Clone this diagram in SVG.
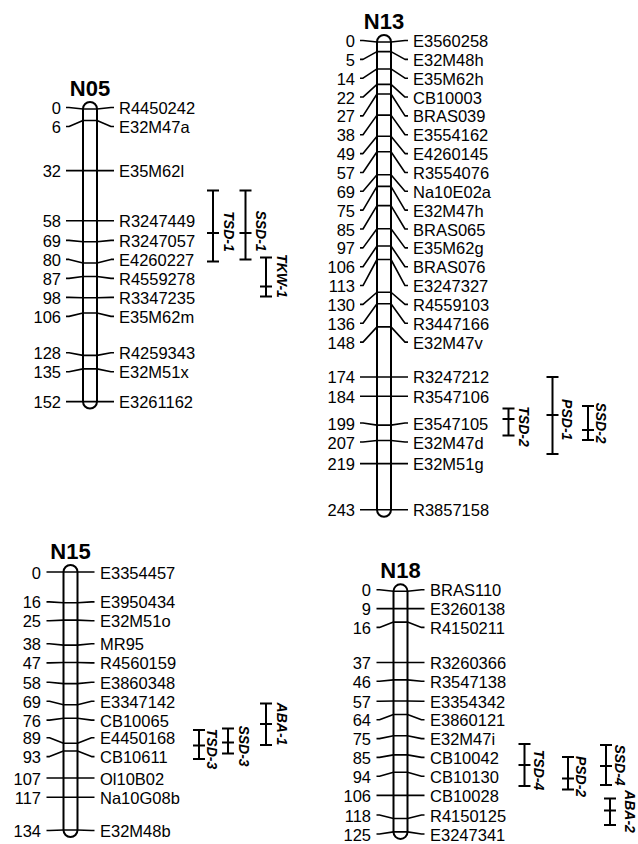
<svg xmlns="http://www.w3.org/2000/svg" width="638" height="844" viewBox="0 0 638 844">
<style>
.bg{fill:#fff}
.chr{fill:#fff;stroke:#000;stroke-width:2}
.mk{fill:none;stroke:#000;stroke-width:1.6;stroke-linejoin:round}
.num{font-family:"Liberation Sans",Arial,sans-serif;font-size:16.5px;text-anchor:end;fill:#000}
.nm{font-family:"Liberation Sans",Arial,sans-serif;font-size:16.5px;text-anchor:start;fill:#000}
.ttl{font-family:"Liberation Sans",Arial,sans-serif;font-size:22px;font-weight:bold;text-anchor:middle;fill:#000}
.qtl{fill:none;stroke:#000;stroke-width:2}
.ql{font-family:"Liberation Sans",Arial,sans-serif;font-size:14px;font-weight:bold;font-style:italic;text-anchor:middle;fill:#000}
</style>
<rect class="bg" x="0" y="0" width="638" height="844"/>

<g id="N05">
<text class="ttl" x="90" y="96">N05</text>
<rect class="chr" x="83" y="102" width="14" height="306.6" rx="7" ry="7"/>
<g class="mk">
<path d="M66,107.5H69L83,109H97L111,107.5H114"/>
<path d="M66,126.5H69L83,120.5H97L111,126.5H114"/>
<path d="M66,170.6H69L83,170.6H97L111,170.6H114"/>
<path d="M66,220.7H69L83,220.7H97L111,220.7H114"/>
<path d="M66,240.4H69L83,241.8H97L111,240.4H114"/>
<path d="M66,259.4H69L83,263H97L111,259.4H114"/>
<path d="M66,278.4H69L83,276.5H97L111,278.4H114"/>
<path d="M66,297.4H69L83,297.7H97L111,297.4H114"/>
<path d="M66,316.4H69L83,313H97L111,316.4H114"/>
<path d="M66,352.7H69L83,355.4H97L111,352.7H114"/>
<path d="M66,371.7H69L83,368.9H97L111,371.7H114"/>
<path d="M66,401.6H69L83,401.6H97L111,401.6H114"/>
</g>
<text class="num" x="61" y="114">0</text><text class="nm" x="119" y="114">R4450242</text>
<text class="num" x="61" y="133">6</text><text class="nm" x="119" y="133">E32M47a</text>
<text class="num" x="61" y="177.1">32</text><text class="nm" x="119" y="177.1">E35M62l</text>
<text class="num" x="61" y="227.2">58</text><text class="nm" x="119" y="227.2">R3247449</text>
<text class="num" x="61" y="246.9">69</text><text class="nm" x="119" y="246.9">R3247057</text>
<text class="num" x="61" y="265.9">80</text><text class="nm" x="119" y="265.9">E4260227</text>
<text class="num" x="61" y="284.9">87</text><text class="nm" x="119" y="284.9">R4559278</text>
<text class="num" x="61" y="303.9">98</text><text class="nm" x="119" y="303.9">R3347235</text>
<text class="num" x="61" y="322.9">106</text><text class="nm" x="119" y="322.9">E35M62m</text>
<text class="num" x="61" y="359.2">128</text><text class="nm" x="119" y="359.2">R4259343</text>
<text class="num" x="61" y="378.2">135</text><text class="nm" x="119" y="378.2">E32M51x</text>
<text class="num" x="61" y="408.1">152</text><text class="nm" x="119" y="408.1">E3261162</text>
</g>

<g id="N13">
<text class="ttl" x="384" y="29">N13</text>
<rect class="chr" x="377" y="35" width="14" height="481.8" rx="7" ry="7"/>
<g class="mk">
<path d="M360,40.5H363L377,42H391L405,40.5H408"/>
<path d="M360,59.35H363L377,51.6H391L405,59.35H408"/>
<path d="M360,78.2H363L377,68.95H391L405,78.2H408"/>
<path d="M360,97.05H363L377,84.35H391L405,97.05H408"/>
<path d="M360,115.9H363L377,94H391L405,115.9H408"/>
<path d="M360,134.75H363L377,115.15H391L405,134.75H408"/>
<path d="M360,153.6H363L377,136.3H391L405,153.6H408"/>
<path d="M360,172.45H363L377,151.7H391L405,172.45H408"/>
<path d="M360,191.3H363L377,174.8H391L405,191.3H408"/>
<path d="M360,210.15H363L377,186.4H391L405,210.15H408"/>
<path d="M360,229H363L377,205.6H391L405,229H408"/>
<path d="M360,247.85H363L377,228.7H391L405,247.85H408"/>
<path d="M360,266.7H363L377,246.05H391L405,266.7H408"/>
<path d="M360,285.55H363L377,259.5H391L405,285.55H408"/>
<path d="M360,304.4H363L377,292.25H391L405,304.4H408"/>
<path d="M360,323.25H363L377,303.8H391L405,323.25H408"/>
<path d="M360,342.1H363L377,326.9H391L405,342.1H408"/>
<path d="M360,376.95H363L377,376.95H391L405,376.95H408"/>
<path d="M360,396.2H363L377,396.2H391L405,396.2H408"/>
<path d="M360,423H363L377,425.1H391L405,423H408"/>
<path d="M360,442H363L377,440.5H391L405,442H408"/>
<path d="M360,463.6H363L377,463.6H391L405,463.6H408"/>
<path d="M360,509.8H363L377,509.8H391L405,509.8H408"/>
</g>
<text class="num" x="355" y="47">0</text><text class="nm" x="413" y="47">E3560258</text>
<text class="num" x="355" y="65.85">5</text><text class="nm" x="413" y="65.85">E32M48h</text>
<text class="num" x="355" y="84.7">14</text><text class="nm" x="413" y="84.7">E35M62h</text>
<text class="num" x="355" y="103.55">22</text><text class="nm" x="413" y="103.55">CB10003</text>
<text class="num" x="355" y="122.4">27</text><text class="nm" x="413" y="122.4">BRAS039</text>
<text class="num" x="355" y="141.25">38</text><text class="nm" x="413" y="141.25">E3554162</text>
<text class="num" x="355" y="160.1">49</text><text class="nm" x="413" y="160.1">E4260145</text>
<text class="num" x="355" y="178.95">57</text><text class="nm" x="413" y="178.95">R3554076</text>
<text class="num" x="355" y="197.8">69</text><text class="nm" x="413" y="197.8">Na10E02a</text>
<text class="num" x="355" y="216.65">75</text><text class="nm" x="413" y="216.65">E32M47h</text>
<text class="num" x="355" y="235.5">85</text><text class="nm" x="413" y="235.5">BRAS065</text>
<text class="num" x="355" y="254.35">97</text><text class="nm" x="413" y="254.35">E35M62g</text>
<text class="num" x="355" y="273.2">106</text><text class="nm" x="413" y="273.2">BRAS076</text>
<text class="num" x="355" y="292.05">113</text><text class="nm" x="413" y="292.05">E3247327</text>
<text class="num" x="355" y="310.9">130</text><text class="nm" x="413" y="310.9">R4559103</text>
<text class="num" x="355" y="329.75">136</text><text class="nm" x="413" y="329.75">R3447166</text>
<text class="num" x="355" y="348.6">148</text><text class="nm" x="413" y="348.6">E32M47v</text>
<text class="num" x="355" y="383.45">174</text><text class="nm" x="413" y="383.45">R3247212</text>
<text class="num" x="355" y="402.7">184</text><text class="nm" x="413" y="402.7">R3547106</text>
<text class="num" x="355" y="429.5">199</text><text class="nm" x="413" y="429.5">E3547105</text>
<text class="num" x="355" y="448.5">207</text><text class="nm" x="413" y="448.5">E32M47d</text>
<text class="num" x="355" y="470.1">219</text><text class="nm" x="413" y="470.1">E32M51g</text>
<text class="num" x="355" y="516.3">243</text><text class="nm" x="413" y="516.3">R3857158</text>
</g>

<g id="N15">
<text class="ttl" x="70.5" y="559">N15</text>
<rect class="chr" x="63.5" y="565" width="14" height="272" rx="7" ry="7"/>
<g class="mk">
<path d="M46.5,572H49.5L63.5,572H77.5L91.5,572H94.5"/>
<path d="M46.5,601.9H49.5L63.5,602.8H77.5L91.5,601.9H94.5"/>
<path d="M46.5,620.7H49.5L63.5,620.1H77.5L91.5,620.7H94.5"/>
<path d="M46.5,643.8H49.5L63.5,645.15H77.5L91.5,643.8H94.5"/>
<path d="M46.5,662.9H49.5L63.5,662.5H77.5L91.5,662.9H94.5"/>
<path d="M46.5,682.2H49.5L63.5,683.65H77.5L91.5,682.2H94.5"/>
<path d="M46.5,701.3H49.5L63.5,704.8H77.5L91.5,701.3H94.5"/>
<path d="M46.5,720.1H49.5L63.5,718.3H77.5L91.5,720.1H94.5"/>
<path d="M46.5,737.8H49.5L63.5,743.3H77.5L91.5,737.8H94.5"/>
<path d="M46.5,756.6H49.5L63.5,751H77.5L91.5,756.6H94.5"/>
<path d="M46.5,778H49.5L63.5,778H77.5L91.5,778H94.5"/>
<path d="M46.5,797.2H49.5L63.5,797.2H77.5L91.5,797.2H94.5"/>
<path d="M46.5,830.5H49.5L63.5,830H77.5L91.5,830.5H94.5"/>
</g>
<text class="num" x="41" y="578.5">0</text><text class="nm" x="100" y="578.5">E3354457</text>
<text class="num" x="41" y="608.4">16</text><text class="nm" x="100" y="608.4">E3950434</text>
<text class="num" x="41" y="627.2">25</text><text class="nm" x="100" y="627.2">E32M51o</text>
<text class="num" x="41" y="650.3">38</text><text class="nm" x="100" y="650.3">MR95</text>
<text class="num" x="41" y="669.4">47</text><text class="nm" x="100" y="669.4">R4560159</text>
<text class="num" x="41" y="688.7">58</text><text class="nm" x="100" y="688.7">E3860348</text>
<text class="num" x="41" y="707.8">69</text><text class="nm" x="100" y="707.8">E3347142</text>
<text class="num" x="41" y="726.6">76</text><text class="nm" x="100" y="726.6">CB10065</text>
<text class="num" x="41" y="744.3">89</text><text class="nm" x="100" y="744.3">E4450168</text>
<text class="num" x="41" y="763.1">93</text><text class="nm" x="100" y="763.1">CB10611</text>
<text class="num" x="41" y="784.5">107</text><text class="nm" x="100" y="784.5">Ol10B02</text>
<text class="num" x="41" y="803.7">117</text><text class="nm" x="100" y="803.7">Na10G08b</text>
<text class="num" x="41" y="837">134</text><text class="nm" x="100" y="837">E32M48b</text>
</g>

<g id="N18">
<text class="ttl" x="400.5" y="578">N18</text>
<rect class="chr" x="393.5" y="584.3" width="14" height="254.6" rx="7" ry="7"/>
<g class="mk">
<path d="M376.5,589.8H379.5L393.5,591.3H407.5L421.5,589.8H424.5"/>
<path d="M376.5,608.6H379.5L393.5,608.6H407.5L421.5,608.6H424.5"/>
<path d="M376.5,627.4H379.5L393.5,622.1H407.5L421.5,627.4H424.5"/>
<path d="M376.5,662.5H379.5L393.5,662.5H407.5L421.5,662.5H424.5"/>
<path d="M376.5,681.3H379.5L393.5,679.85H407.5L421.5,681.3H424.5"/>
<path d="M376.5,701.2H379.5L393.5,701H407.5L421.5,701.2H424.5"/>
<path d="M376.5,719.8H379.5L393.5,714.5H407.5L421.5,719.8H424.5"/>
<path d="M376.5,738.6H379.5L393.5,735.7H407.5L421.5,738.6H424.5"/>
<path d="M376.5,757.4H379.5L393.5,754.9H407.5L421.5,757.4H424.5"/>
<path d="M376.5,776.2H379.5L393.5,772.25H407.5L421.5,776.2H424.5"/>
<path d="M376.5,795.35H379.5L393.5,795.35H407.5L421.5,795.35H424.5"/>
<path d="M376.5,815H379.5L393.5,818.45H407.5L421.5,815H424.5"/>
<path d="M376.5,834H379.5L393.5,831.9H407.5L421.5,834H424.5"/>
</g>
<text class="num" x="371" y="596.3">0</text><text class="nm" x="430" y="596.3">BRAS110</text>
<text class="num" x="371" y="615.1">9</text><text class="nm" x="430" y="615.1">E3260138</text>
<text class="num" x="371" y="633.9">16</text><text class="nm" x="430" y="633.9">R4150211</text>
<text class="num" x="371" y="669">37</text><text class="nm" x="430" y="669">R3260366</text>
<text class="num" x="371" y="687.8">46</text><text class="nm" x="430" y="687.8">R3547138</text>
<text class="num" x="371" y="707.7">57</text><text class="nm" x="430" y="707.7">E3354342</text>
<text class="num" x="371" y="726.3">64</text><text class="nm" x="430" y="726.3">E3860121</text>
<text class="num" x="371" y="745.1">75</text><text class="nm" x="430" y="745.1">E32M47i</text>
<text class="num" x="371" y="763.9">85</text><text class="nm" x="430" y="763.9">CB10042</text>
<text class="num" x="371" y="782.7">94</text><text class="nm" x="430" y="782.7">CB10130</text>
<text class="num" x="371" y="801.85">106</text><text class="nm" x="430" y="801.85">CB10028</text>
<text class="num" x="371" y="821.5">118</text><text class="nm" x="430" y="821.5">R4150125</text>
<text class="num" x="371" y="840.5">125</text><text class="nm" x="430" y="840.5">E3247341</text>
</g>

<g id="qtl-TSD-1"><path class="qtl" d="M207,190.5H219M213,190.5V261.5M207,261.5H219M207,233H219"/><text class="ql" transform="translate(223.5,231.5) rotate(90)">TSD-1</text></g>
<g id="qtl-SSD-1"><path class="qtl" d="M239.5,190.5H251.5M245.5,190.5V259.5M239.5,259.5H251.5M239.5,233H251.5"/><text class="ql" transform="translate(255.5,231) rotate(90)">SSD-1</text></g>
<g id="qtl-TKW-1"><path class="qtl" d="M260,257.5H272M266,257.5V296.5M260,296.5H272M260,286.5H272"/><text class="ql" transform="translate(277,276) rotate(90)">TKW-1</text></g>
<g id="qtl-TSD-2"><path class="qtl" d="M502.5,408.5H514.5M508.5,408.5V435.5M502.5,435.5H514.5M502.5,419H514.5"/><text class="ql" transform="translate(518.5,426.5) rotate(90)">TSD-2</text></g>
<g id="qtl-PSD-1"><path class="qtl" d="M546.5,377H558.5M552.5,377V454M546.5,454H558.5M546.5,415H558.5"/><text class="ql" transform="translate(562,419.7) rotate(90)">PSD-1</text></g>
<g id="qtl-SSD-2"><path class="qtl" d="M582,406H594M588,406V440M582,440H594M582,430H594"/><text class="ql" transform="translate(596,423) rotate(90)">SSD-2</text></g>
<g id="qtl-TSD-3"><path class="qtl" d="M193,730H205M199,730V759M193,759H205M193,745.5H205"/><text class="ql" transform="translate(207,749) rotate(90)">TSD-3</text></g>
<g id="qtl-SSD-3"><path class="qtl" d="M222,728.5H234M228,728.5V753.5M222,753.5H234M222,742.5H234"/><text class="ql" transform="translate(238.5,746) rotate(90)">SSD-3</text></g>
<g id="qtl-ABA-1"><path class="qtl" d="M260,703.5H272M266,703.5V745M260,745H272M260,724H272"/><text class="ql" transform="translate(277,724) rotate(90)">ABA-1</text></g>
<g id="qtl-TSD-4"><path class="qtl" d="M518.5,744H530.5M524.5,744V786M518.5,786H530.5M518.5,765H530.5"/><text class="ql" transform="translate(533.5,770) rotate(90)">TSD-4</text></g>
<g id="qtl-PSD-2"><path class="qtl" d="M562,757H574M568,757V789.5M562,789.5H574M562,778.5H574"/><text class="ql" transform="translate(576,776.5) rotate(90)">PSD-2</text></g>
<g id="qtl-SSD-4"><path class="qtl" d="M600,745H612M606,745V785M600,785H612M600,766H612"/><text class="ql" transform="translate(614.5,765) rotate(90)">SSD-4</text></g>
<g id="qtl-ABA-2"><path class="qtl" d="M604,798.5H616M610,798.5V825M604,825H616M604,810.5H616"/><text class="ql" transform="translate(625,811.5) rotate(90)">ABA-2</text></g>
</svg>
